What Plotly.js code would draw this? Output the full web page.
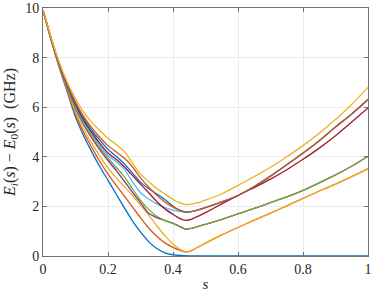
<!DOCTYPE html>
<html>
<head>
<meta charset="utf-8">
<script src="https://cdn.plot.ly/plotly-3.0.1.min.js"></script>
<style>html,body{margin:0;padding:0;background:#fff;}#chart{width:374px;height:295px;}</style>
</head>
<body>
<div id="chart"></div>
<script>
const s = [0, 0.025, 0.05, 0.075, 0.1, 0.125, 0.15, 0.175, 0.2, 0.225, 0.25, 0.275, 0.3, 0.325, 0.35, 0.375, 0.4, 0.42, 0.44, 0.46, 0.48, 0.5, 0.55, 0.6, 0.65, 0.7, 0.75, 0.8, 0.85, 0.9, 0.95, 1];

const E1 = [9.9, 8.7, 7.6, 6.6, 5.6, 4.85, 4.2, 3.6, 3.05, 2.5, 1.95, 1.42, 0.97, 0.58, 0.3, 0.13, 0.05, 0.02, 0.01, 0, 0, 0, 0, 0, 0, 0, 0, 0, 0, 0, 0, 0];
const E2 = [9.9, 8.71, 7.63, 6.66, 5.71, 4.99, 4.38, 3.81, 3.3, 2.85, 2.42, 1.98, 1.55, 1.13, 0.8, 0.53, 0.35, 0.24, 0.16, 0.24, 0.38, 0.52, 0.85, 1.15, 1.45, 1.73, 2.02, 2.32, 2.62, 2.9, 3.2, 3.52];
const E3 = [9.9, 8.73, 7.66, 6.72, 5.82, 5.13, 4.55, 4.03, 3.55, 3.15, 2.8, 2.45, 2.05, 1.65, 1.22, 0.82, 0.48, 0.28, 0.15, 0.24, 0.38, 0.52, 0.85, 1.15, 1.45, 1.73, 2.02, 2.32, 2.62, 2.9, 3.2, 3.52];
const E4 = [9.9, 8.75, 7.69, 6.79, 5.95, 5.3, 4.76, 4.28, 3.85, 3.45, 3.02, 2.58, 2.15, 1.72, 1.55, 1.43, 1.32, 1.2, 1.08, 1.12, 1.2, 1.28, 1.48, 1.7, 1.92, 2.15, 2.38, 2.65, 2.95, 3.27, 3.62, 4.02];
const E5 = [9.9, 8.75, 7.71, 6.81, 6.0, 5.35, 4.84, 4.37, 3.95, 3.58, 3.2, 2.72, 2.25, 1.88, 1.6, 1.43, 1.3, 1.18, 1.08, 1.12, 1.2, 1.28, 1.48, 1.7, 1.92, 2.15, 2.38, 2.65, 2.95, 3.27, 3.62, 4.02];
const E6 = [9.9, 8.76, 7.72, 6.84, 6.04, 5.41, 4.91, 4.46, 4.05, 3.8, 3.5, 3.0, 2.55, 2.3, 2.1, 1.95, 1.85, 1.8, 1.77, 1.8, 1.87, 1.95, 2.18, 2.44, 2.8, 3.22, 3.68, 4.15, 4.65, 5.2, 5.73, 6.31];
const E7 = [9.9, 8.77, 7.73, 6.86, 6.09, 5.47, 4.98, 4.54, 4.15, 3.9, 3.6, 3.25, 2.9, 2.55, 2.2, 1.9, 1.68, 1.52, 1.44, 1.5, 1.62, 1.75, 2.1, 2.44, 2.76, 3.1, 3.48, 3.9, 4.35, 4.85, 5.4, 5.97];
const E8 = [9.9, 8.77, 7.75, 6.89, 6.15, 5.55, 5.08, 4.67, 4.3, 4.02, 3.72, 3.35, 2.98, 2.72, 2.5, 2.28, 2.0, 1.85, 1.77, 1.8, 1.87, 1.95, 2.18, 2.44, 2.8, 3.22, 3.68, 4.15, 4.65, 5.2, 5.73, 6.31];
const E9 = [9.9, 8.78, 7.76, 6.93, 6.22, 5.63, 5.18, 4.79, 4.45, 4.2, 3.95, 3.6, 3.15, 2.78, 2.45, 2.18, 1.97, 1.85, 1.77, 1.8, 1.87, 1.95, 2.18, 2.44, 2.8, 3.22, 3.68, 4.15, 4.65, 5.2, 5.73, 6.31];
const E10 = [9.9, 8.8, 7.8, 7.0, 6.35, 5.8, 5.4, 5.05, 4.75, 4.5, 4.22, 3.75, 3.3, 3.0, 2.72, 2.5, 2.28, 2.15, 2.07, 2.1, 2.16, 2.25, 2.5, 2.85, 3.2, 3.58, 4.0, 4.45, 4.95, 5.5, 6.12, 6.8];

const levels = [E1, E2, E3, E4, E5, E6, E7, E8, E9, E10];
const colors = ['#0072BD', '#D95319', '#EDB120', '#7E2F8E', '#77AC30', '#4DBEEE', '#A2142F'];

const xTicks = [0, 0.2, 0.4, 0.6, 0.8, 1];
const xTickText = ['0', '0.2', '0.4', '0.6', '0.8', '1'];
const yTicks = [0, 2, 4, 6, 8, 10];
const yTickText = ['0', '2', '4', '6', '8', '10'];

const serif = 'Liberation Serif';

const traces = levels.map((E, i) => ({
  x: s, y: E, type: 'scatter', mode: 'lines',
  line: {color: colors[i % colors.length], width: 1.3, shape: 'spline', smoothing: 0.5},
  showlegend: false, hoverinfo: 'skip'
}));

const axisCommon = {
  showline: true, mirror: 'ticks', linecolor: '#707070', linewidth: 1,
  ticks: 'inside', ticklen: 4, tickcolor: '#707070', tickwidth: 1,
  showgrid: true, gridcolor: '#ebebeb', gridwidth: 1, zeroline: false,
  tickfont: {family: serif, size: 14, color: '#262626'},
  fixedrange: true
};

const layout = {
  width: 374, height: 295,
  font: {family: serif},
  margin: {l: 43, r: 6, t: 8, b: 39},
  paper_bgcolor: '#ffffff', plot_bgcolor: '#ffffff',
  xaxis: Object.assign({}, axisCommon, {
    range: [0, 1], tickvals: xTicks, ticktext: xTickText,
    title: {text: '<i>s</i>', font: {family: serif, size: 15, color: '#262626'}, standoff: 2}
  }),
  yaxis: Object.assign({}, axisCommon, {
    range: [0, 10], tickvals: yTicks, ticktext: yTickText,
    title: {text: '<i>E</i><sub><i>i</i></sub>(<i>s</i>) − <i>E</i><sub>0</sub>(<i>s</i>)  (GHz)', font: {family: serif, size: 16, color: '#262626'}, standoff: 5}
  })
};

Plotly.newPlot('chart', traces, layout, {displayModeBar: false, staticPlot: true});
</script>
</body>
</html>
